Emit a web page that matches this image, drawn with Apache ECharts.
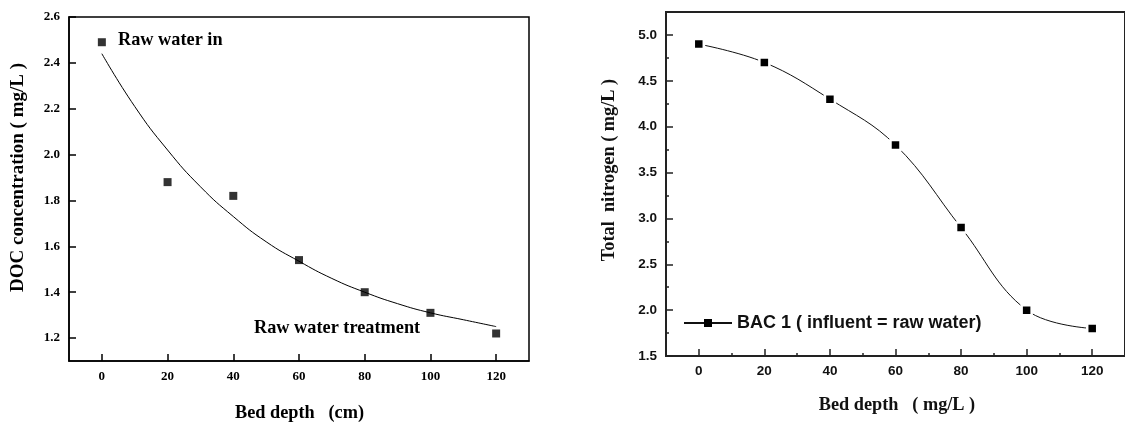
<!DOCTYPE html>
<html>
<head>
<meta charset="utf-8">
<script src="https://cdn.jsdelivr.net/npm/echarts@6/dist/echarts.min.js"></script>
<style>
html,body{margin:0;padding:0;background:#fff;}
#chart{width:1125px;height:424px;}
</style>
</head>
<body>
<div id="chart"></div>
<script>
// ---- Left chart data (DOC concentration) ----
const depth = [0, 20, 40, 60, 80, 100, 120];
const docMeasured = [2.49, 1.88, 1.82, 1.54, 1.40, 1.31, 1.22];
const fitDepth = [0, 10, 20, 30, 40, 50, 60, 70, 80, 90, 100, 110, 120];
const docFit = [2.44, 2.21, 2.02, 1.86, 1.73, 1.62, 1.535, 1.46, 1.40, 1.35, 1.31, 1.28, 1.25];
const leftXTicks = [0, 20, 40, 60, 80, 100, 120];
const leftYTicks = [1.2, 1.4, 1.6, 1.8, 2.0, 2.2, 2.4, 2.6];

// ---- Right chart data (Total nitrogen) ----
const tnValues = [4.9, 4.7, 4.3, 3.8, 2.9, 2.0, 1.8];
const rightXTicks = [0, 20, 40, 60, 80, 100, 120];
const rightXMinor = [10, 30, 50, 70, 90, 110];
const rightYTicks = [1.5, 2.0, 2.5, 3.0, 3.5, 4.0, 4.5, 5.0];
const rightYMinor = [1.75, 2.25, 2.75, 3.25, 3.75, 4.25, 4.75];
const seriesName = 'BAC 1 ( influent = raw water)';

const serif = '"Liberation Serif", "Times New Roman", serif';
const sans = '"Liberation Sans", Arial, sans-serif';

function pair(xs, ys) { return xs.map((x, i) => [x, ys[i]]); }

const chart = echarts.init(document.getElementById('chart'), null, {renderer: 'canvas'});

const leftLabel = {color: '#000', fontFamily: serif, fontWeight: 'bold', fontSize: 13};
const rightLabel = {color: '#111', fontFamily: sans, fontWeight: 'bold', fontSize: 13.5};

const option = {
  animation: false,
  backgroundColor: '#fff',
  grid: [
    {left: 69, top: 17, width: 460, height: 344, show: true, borderColor: '#000', borderWidth: 1.5, backgroundColor: 'transparent'},
    {left: 666, top: 12, width: 464, height: 344, show: true, borderColor: '#222', borderWidth: 2, backgroundColor: 'transparent'}
  ],
  xAxis: [
    {gridIndex: 0, type: 'value', min: -10, max: 130,
     axisLine: {onZero: false, lineStyle: {color: '#000', width: 1.5}},
     axisTick: {inside: true, length: 7, lineStyle: {color: '#000', width: 1.5}, customValues: leftXTicks},
     axisLabel: Object.assign({margin: 9, customValues: leftXTicks, formatter: v => String(v)}, leftLabel),
     splitLine: {show: false}},
    {gridIndex: 1, type: 'value', min: -10, max: 130,
     axisLine: {onZero: false, lineStyle: {color: '#222', width: 2}},
     axisTick: {inside: true, length: 7, lineStyle: {color: '#222', width: 1.5}, customValues: rightXTicks},
     axisLabel: Object.assign({margin: 8, customValues: rightXTicks, formatter: v => String(v)}, rightLabel),
     splitLine: {show: false}},
    {gridIndex: 1, type: 'value', min: -10, max: 130, position: 'bottom', offset: 0,
     axisLine: {show: false, onZero: false},
     axisTick: {inside: true, length: 3, lineStyle: {color: '#222', width: 1.5}, customValues: rightXMinor},
     axisLabel: {show: false},
     splitLine: {show: false}}
  ],
  yAxis: [
    {gridIndex: 0, type: 'value', min: 1.1, max: 2.6,
     axisLine: {show: true, onZero: false, lineStyle: {color: '#000', width: 1.5}},
     axisTick: {show: true, inside: true, length: 7, lineStyle: {color: '#000', width: 1.5}, customValues: leftYTicks},
     axisLabel: Object.assign({margin: 9, customValues: leftYTicks, formatter: v => v.toFixed(1)}, leftLabel),
     splitLine: {show: false}},
    {gridIndex: 1, type: 'value', min: 1.5, max: 5.25,
     axisLine: {show: true, onZero: false, lineStyle: {color: '#222', width: 2}},
     axisTick: {show: true, inside: true, length: 7, lineStyle: {color: '#222', width: 1.5}, customValues: rightYTicks},
     axisLabel: Object.assign({margin: 9, customValues: rightYTicks, formatter: v => v.toFixed(1)}, rightLabel),
     splitLine: {show: false}},
    {gridIndex: 1, type: 'value', min: 1.5, max: 5.25, position: 'left', offset: 0,
     axisLine: {show: false, onZero: false},
     axisTick: {show: true, inside: true, length: 3, lineStyle: {color: '#222', width: 1.5}, customValues: rightYMinor},
     axisLabel: {show: false},
     splitLine: {show: false}}
  ],
  legend: {
    data: [seriesName],
    left: 683, top: 314, padding: 0,
    itemWidth: 48, itemHeight: 10,
    itemStyle: {borderWidth: 0},
    textStyle: {color: '#111', fontFamily: sans, fontWeight: 'bold', fontSize: 18}
  },
  series: [
    {type: 'scatter', name: 'DOC measured', xAxisIndex: 0, yAxisIndex: 0,
     data: pair(depth, docMeasured), symbol: 'rect', symbolSize: 8,
     itemStyle: {color: '#000'}},
    {type: 'line', name: 'DOC fit', xAxisIndex: 0, yAxisIndex: 0,
     data: pair(fitDepth, docFit), smooth: true, showSymbol: false, symbol: 'none',
     lineStyle: {color: '#000', width: 1}},
    {type: 'line', name: seriesName, xAxisIndex: 1, yAxisIndex: 1,
     data: pair(depth, tnValues), smooth: 0.4, symbol: 'rect', symbolSize: 10,
     itemStyle: {color: '#000', borderColor: '#fff', borderWidth: 2.5},
     lineStyle: {color: '#111', width: 1}}
  ],
  graphic: [
    {type: 'text', x: 118, y: 40.5, style: {text: 'Raw water in', fill: '#000', font: 'bold 18.3px ' + serif, textAlign: 'left', textVerticalAlign: 'middle'}},
    {type: 'text', x: 254, y: 328, style: {text: 'Raw water treatment', fill: '#000', font: 'bold 18.3px ' + serif, textAlign: 'left', textVerticalAlign: 'middle'}},
    {type: 'text', x: 18.5, y: 177.5, rotation: Math.PI / 2, style: {text: 'DOC concentration ( mg/L )', fill: '#000', font: 'bold 19px ' + serif, textAlign: 'center', textVerticalAlign: 'middle'}},
    {type: 'text', x: 299.5, y: 413, style: {text: 'Bed depth   (cm)', fill: '#000', font: 'bold 18.3px ' + serif, textAlign: 'center', textVerticalAlign: 'middle'}},
    {type: 'text', x: 609.5, y: 170, rotation: Math.PI / 2, style: {text: 'Total  nitrogen ( mg/L )', fill: '#111', font: 'bold 18.3px ' + serif, textAlign: 'center', textVerticalAlign: 'middle'}},
    {type: 'text', x: 897, y: 405, style: {text: 'Bed depth   ( mg/L )', fill: '#111', font: 'bold 18.3px ' + serif, textAlign: 'center', textVerticalAlign: 'middle'}}
  ]
};
chart.setOption(option);
</script>
</body>
</html>
